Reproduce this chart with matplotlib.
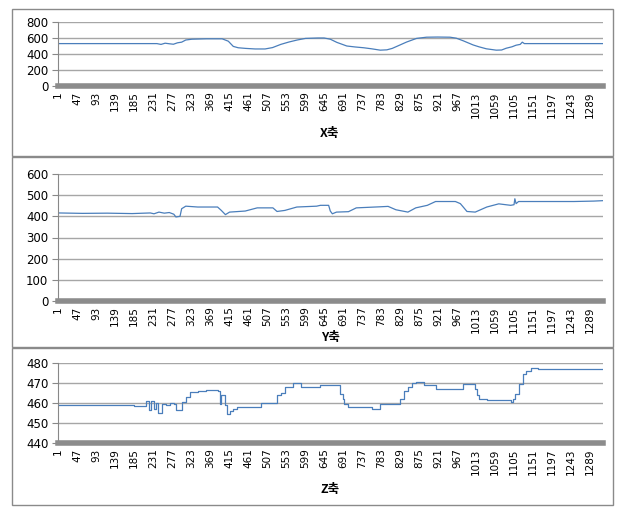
import numpy as np
import matplotlib.pyplot as plt
from matplotlib.patches import Rectangle

# sample index (category position) and reading
N = 1320
x_idx = [1, 240, 250, 260, 270, 280, 290, 300, 310, 325, 360, 398, 413, 425, 437,
         455, 478, 502, 520, 540, 560, 580, 600, 630, 645, 660, 676, 700, 720, 741,
         760, 781, 797, 810, 821, 845, 869, 893, 920, 950, 965, 982, 1006, 1020, 1038,
         1062, 1075, 1086, 1100, 1110, 1120, 1125, 1130, 1320]
x_val = [530, 530, 520, 535, 528, 522, 540, 548, 575, 585, 590, 590, 560, 495, 478,
         470, 463, 463, 480, 520, 550, 575, 595, 600, 600, 585, 545, 500, 488, 478,
         465, 448, 452, 470, 495, 550, 595, 610, 612, 610, 598, 565, 513, 490, 465,
         448, 450, 472, 490, 510, 520, 548, 530, 530]

y_idx = [1, 60, 120, 180, 224, 233, 245, 258, 270, 281, 286, 296, 300, 310, 339,
         387, 396, 406, 416, 454, 483, 521, 531, 550, 579, 627, 636, 656, 660, 665,
         675, 704, 723, 780, 800, 819, 848, 867, 895, 915, 963, 975, 982, 991, 1011,
         1039, 1068, 1097, 1105, 1107, 1110, 1116, 1250, 1298, 1320]
y_val = [416, 414, 415, 413, 416, 412, 420, 415, 418, 410, 397, 400, 436, 448, 444,
         444, 428, 408, 420, 425, 440, 440, 423, 428, 444, 448, 452, 452, 425, 412,
         420, 422, 440, 445, 447, 431, 420, 440, 452, 470, 470, 460, 444, 423, 420,
         444, 459, 452, 455, 483, 460, 470, 470, 472, 474]

z_idx = [1, 100, 176, 185, 204, 214, 220, 226, 232, 238, 243, 252, 262, 272, 281,
         287, 291, 300, 310, 320, 339, 360, 387, 392, 396, 401, 406, 411, 418, 425,
         435, 473, 492, 521, 531, 540, 550, 569, 588, 627, 636, 675, 684, 690, 694,
         703, 751, 761, 780, 819, 828, 838, 848, 858, 867, 886, 905, 915, 963, 982,
         1011, 1016, 1020, 1039, 1087, 1097, 1102, 1107, 1116, 1126, 1135, 1145, 1164, 1320]
z_val = [459, 459, 459, 458.5, 458.5, 460.8, 456.5, 461, 457, 460, 455, 459.6, 459, 459.8, 459.5,
         456.4, 456.5, 460.5, 463, 465.4, 466.2, 466.5, 466, 459.7, 464, 463.8, 459, 454.4, 456, 457.2,
         458, 458, 460, 460, 463.8, 465, 467.9, 470, 468, 468, 468.8, 468.8, 464.6, 462, 459.7,
         458, 458, 457.2, 459.7, 459.7, 462, 466, 467.9, 470, 470.5, 468.8, 468.8, 467.2, 467.2, 469.7,
         467.2, 464, 462, 461.3, 461.3, 460.5, 462, 464.6, 469.7, 474.7, 476, 477.7, 477.2, 477.2]

cat_ticks = list(range(1, 1290, 46))

panels = [
    # data, y ticks, title, plot bottom/top px, frame top/bottom px, title y px, drawstyle
    (x_idx, x_val, [0, 200, 400, 600, 800], 'X축', 86, 22, (9, 156), 133, 'default'),
    (y_idx, y_val, [0, 100, 200, 300, 400, 500, 600], 'Y축', 301, 174, (157, 347), 338, 'default'),
    (z_idx, z_val, [440, 450, 460, 470, 480], 'Z축', 443, 363, (348, 505), 490, 'steps-post'),
]

W, H = 620, 508
fig = plt.figure(figsize=(W / 100, H / 100), dpi=100)
line_col = '#4a7ebb'
cjk = ['Noto Sans CJK KR', 'DejaVu Sans']

for idx, vals, yt, title, ybot, ytop, (btop, bbot), ty, ds in panels:
    # panel frame
    fig.patches.append(Rectangle((12 / W, 1 - bbot / H), 601 / W, (bbot - btop) / H,
                                 transform=fig.transFigure, fill=False,
                                 edgecolor='#8a8a8a', lw=1))
    ax = fig.add_axes([58 / W, 1 - ybot / H, 545 / W, (ybot - ytop) / H])
    ax.plot(idx, vals, color=line_col, lw=0.9, drawstyle=ds)
    ax.set_xlim(0.5, N + 0.5)
    ax.set_ylim(yt[0], yt[-1])
    ax.set_yticks(yt)
    ax.set_xticks(cat_ticks)
    ax.set_xticklabels([str(t) for t in cat_ticks], rotation=90, fontsize=7.5)
    ax.tick_params(axis='y', labelsize=8.5, length=4, color='#888888', pad=3)
    ax.tick_params(axis='x', length=0, pad=4)
    ax.grid(axis='y', color='#a6a6a6', lw=1)
    ax.set_axisbelow(True)
    for s in ['top', 'right']:
        ax.spines[s].set_visible(False)
    ax.spines['left'].set_color('#888888')
    ax.spines['bottom'].set_color('#8c8c8c')
    ax.spines['bottom'].set_linewidth(4)
    fig.text(330 / W, 1 - ty / H, title, ha='center', va='center',
             fontsize=9, fontweight='bold', family=cjk)

fig.savefig('out.png', dpi=100)
